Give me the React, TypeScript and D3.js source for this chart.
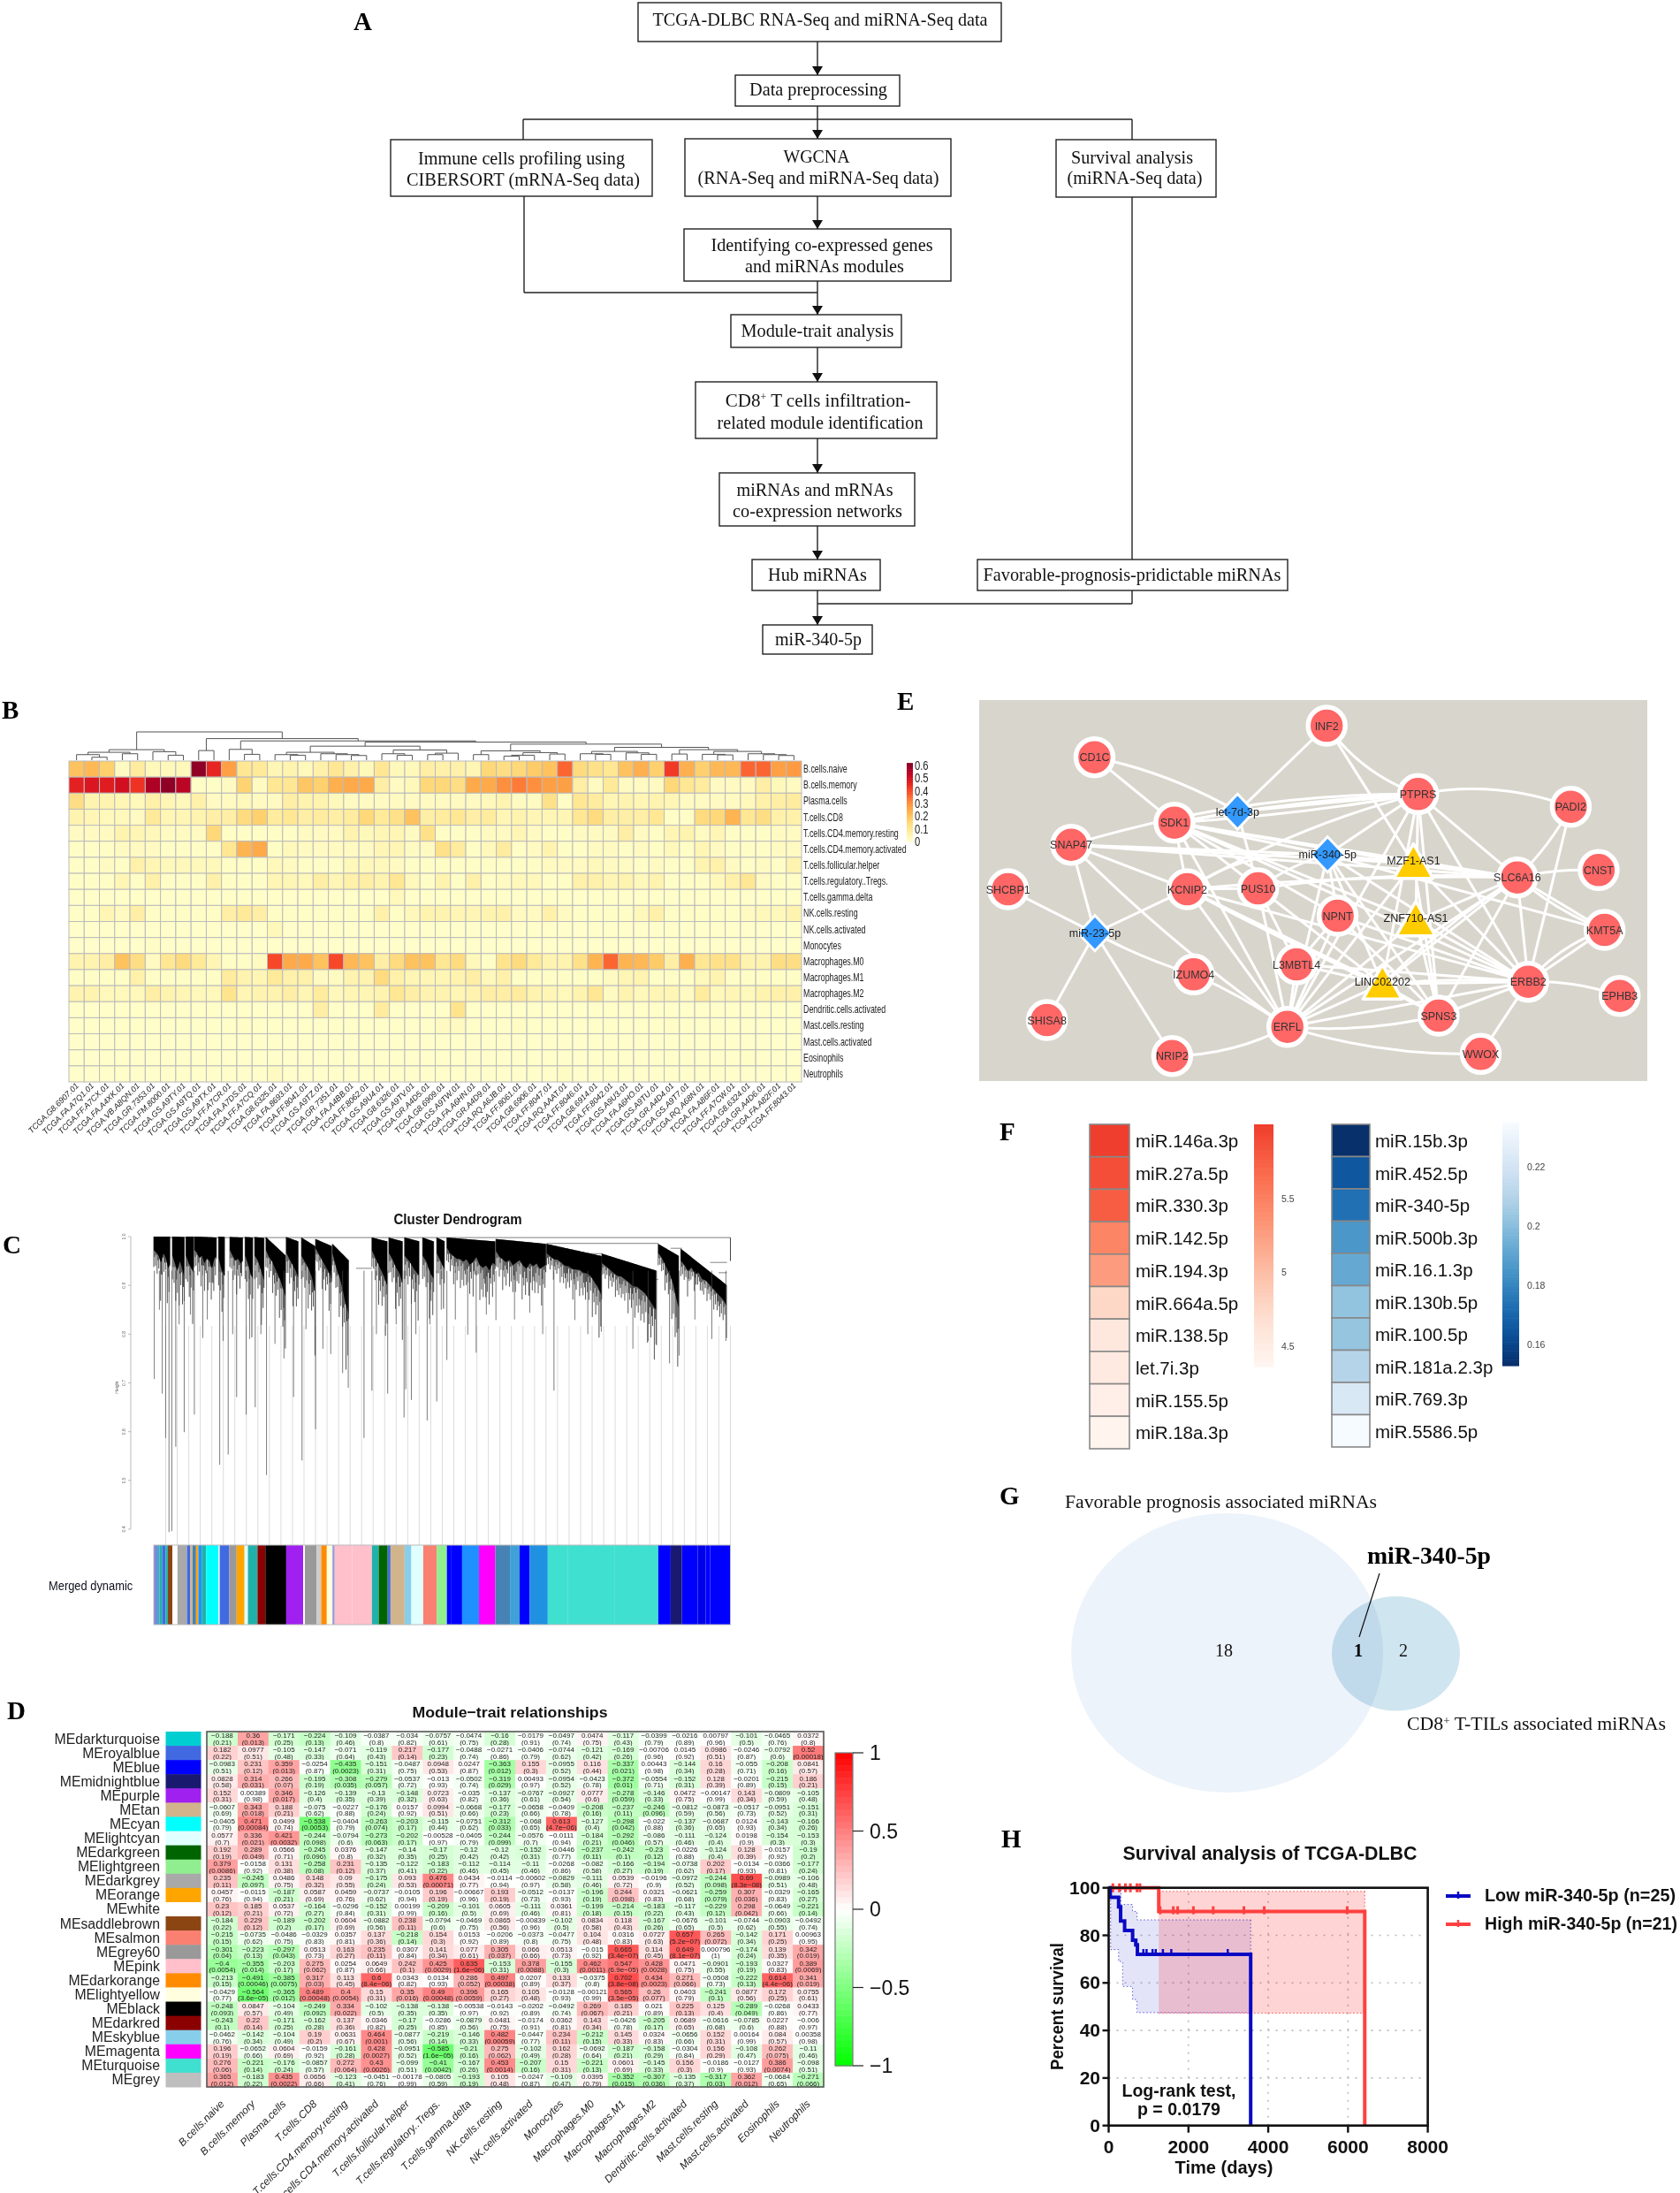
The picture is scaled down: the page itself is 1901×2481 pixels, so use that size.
import * as d3 from "d3"

const sans = "'Liberation Sans', Arial, sans-serif"
const serif = "'Liberation Serif', 'Times New Roman', serif"

// ---------- A: flow chart
const flowBoxes = [
  [722, 3, 411, 44], [832, 85, 186, 35], [442, 158, 296, 64], [775, 157, 301, 65], [1195, 158, 181, 65],
  [774, 259, 302, 59], [827, 356, 193, 37], [787, 432, 273, 64], [814, 535, 221, 60], [851, 633, 145, 35],
  [1106, 633, 351, 35], [863, 707, 124, 33],
]
const flowText: [string, number, number, number][] = [
  ["TCGA-DLBC RNA-Seq and miRNA-Seq data", 928, 29, 379],
  ["Data preprocessing", 926, 108, 156],
  ["Immune cells profiling using", 590, 186, 234],
  ["CIBERSORT (mRNA-Seq data)", 592, 210, 264],
  ["WGCNA", 924, 184, 75],
  ["(RNA-Seq and miRNA-Seq data)", 926, 208, 273],
  ["Survival analysis", 1281, 185, 138],
  ["(miRNA-Seq data)", 1284, 208, 153],
  ["Identifying co-expressed genes", 930, 284, 251],
  ["and miRNAs modules", 933, 308, 180],
  ["Module-trait analysis", 925, 381, 173],
  ["related module identification", 928, 485, 233],
  ["miRNAs and mRNAs", 922, 561, 177],
  ["co-expression networks", 925, 585, 192],
  ["Hub miRNAs", 925, 657, 112],
  ["Favorable-prognosis-pridictable miRNAs", 1281, 657, 337],
  ["miR-340-5p", 926, 730, 98],
]
const flowArrows = [
  [925, 47, 925, 85], [925, 120, 925, 157], [925, 222, 925, 259], [925, 318, 925, 356],
  [925, 393, 925, 432], [925, 496, 925, 535], [925, 595, 925, 633], [925, 668, 925, 707],
]
const flowLines = [
  [592, 135, 1281, 135], [592, 135, 592, 158], [1281, 135, 1281, 158], [593, 222, 593, 331], [593, 331, 925, 331],
  [1281, 223, 1281, 633], [1281, 668, 1281, 683], [925, 683, 1281, 683],
]

// ---------- B: CIBERSORT heatmap
const samples = [
  "TCGA.G8.6907.01", "TCGA.FA.A7Q1.01", "TCGA.FF.A7CX.01", "TCGA.FA.A4XK.01", "TCGA.VB.A8QN.01", "TCGA.GR.7353.01",
  "TCGA.FM.8000.01", "TCGA.GS.A9TY.01", "TCGA.GS.A9TQ.01", "TCGA.GS.A9TX.01", "TCGA.FF.A7CR.01", "TCGA.FA.A7DS.01",
  "TCGA.FF.A7CQ.01", "TCGA.G8.6325.01", "TCGA.FA.8693.01", "TCGA.FF.8041.01", "TCGA.GS.A9TZ.01", "TCGA.GR.7351.01",
  "TCGA.FA.A4BB.01", "TCGA.FF.8062.01", "TCGA.GS.A9U4.01", "TCGA.G8.6326.01", "TCGA.GS.A9TV.01", "TCGA.GR.A4D5.01",
  "TCGA.G8.6909.01", "TCGA.GS.A9TW.01", "TCGA.FA.A6HN.01", "TCGA.GR.A4D9.01", "TCGA.RQ.A6JB.01", "TCGA.FF.8061.01",
  "TCGA.G8.6906.01", "TCGA.FF.8047.01", "TCGA.RQ.AAAT.01", "TCGA.FF.8046.01", "TCGA.G8.6914.01", "TCGA.FF.8042.01",
  "TCGA.GS.A9U3.01", "TCGA.FA.A6HO.01", "TCGA.GS.A9TU.01", "TCGA.GR.A4D4.01", "TCGA.GS.A9T7.01", "TCGA.RQ.A68N.01",
  "TCGA.FA.A86F.01", "TCGA.FF.A7CW.01", "TCGA.G8.6324.01", "TCGA.GR.A4D6.01", "TCGA.FA.A82F.01", "TCGA.FF.8043.01",
]
const cellTypes = [
  "B.cells.naive", "B.cells.memory", "Plasma.cells", "T.cells.CD8", "T.cells.CD4.memory.resting",
  "T.cells.CD4.memory.activated", "T.cells.follicular.helper", "T.cells.regulatory..Tregs.", "T.cells.gamma.delta",
  "NK.cells.resting", "NK.cells.activated", "Monocytes", "Macrophages.M0", "Macrophages.M1", "Macrophages.M2",
  "Dendritic.cells.activated", "Mast.cells.resting", "Mast.cells.activated", "Eosinophils", "Neutrophils",
]
const fractions = [
  [.2,.22,.17,.02,.08,.03,.03,.03, .6,.45,.27,.1,.09,.04,.05,.03, .06,.1,.06,.03,.1,.03,.03,.07, .06,.06,.04,.15,.13,.15,.18,.2, .36,.14,.12,.1,.2,.24,.17,.42, .24,.17,.22,.22,.36,.36,.27,.28],
  [.46,.48,.47,.5,.43,.56,.6,.54, .01,.01,.02,.16,.02,.1,.1,.19, .17,.24,.25,.25,.07,.02,.03,.15, .15,.13,.25,.25,.3,.33,.3,.27, .27,.07,.02,.09,.02,.02,.02,.15, .1,.08,.02,.02,.02,.07,.03,.02],
  [.13,.05,.05,.04,.03,.06,.04,.03, .06,.02,.02,.03,.02,.02,.07,.05, .05,.03,.02,.02,.02,.02,.02,.02, .02,.02,.02,.03,.05,.02,.02,.12, .01,.1,.08,.04,.05,.04,.05,.04, .02,.02,.02,.02,.03,.06,.07,.08],
  [.05,.04,.03,.03,.02,.09,.04,.04, .05,.07,.07,.14,.17,.08,.1,.07, .08,.07,.08,.15,.09,.12,.2,.07, .08,.1,.07,.08,.04,.05,.04,.04, .04,.1,.14,.07,.07,.07,.1,.01, .01,.14,.15,.23,.1,.13,.06,.06],
  [.02,.02,.02,.05,.04,.03,.02,.02, .02,.15,.01,.01,.01,.01,.01,.02, .02,.02,.05,.03,.04,.04,.02,.12, .01,.01,.01,.02,.02,.04,.02,.01, .01,.02,.02,.02,.07,.02,.01,.04, .05,.02,.04,.01,.01,.01,.02,.02],
  [.01,.01,.01,.02,.02,.02,.01,.01, .01,.01,.1,.23,.25,.01,.03,.02, .02,.02,.02,.02,.04,.04,.02,.02, .12,.08,.01,.03,.08,.01,.02,.05, .01,.01,.02,.02,.01,.02,.01,.03, .01,.04,.02,.01,.01,.01,.02,.02],
  [.01,.01,.02,.01,.06,.04,.03,.03, .03,.03,.01,.01,.01,.03,.02,.01, .01,.01,.03,.03,.03,.02,.01,.01, .01,.01,.01,.01,.01,.01,.01,.02, .02,.02,.03,.02,.02,.01,.02,.01, .01,.05,.06,.02,.01,.02,.01,.05],
  [.01,.01,.01,.04,.01,.06,.01,.01, .01,.06,.01,.01,.01,.04,.04,.03, .07,.04,.06,.07,.05,.1,.03,.01, .05,.01,.06,.01,.02,.03,.03,.01, .01,.06,.06,.04,.05,.03,.05,.01, .01,.01,.03,.06,.1,.02,.01,.01],
  [.005,.005,.005,.005,.005,.005,.005,.005, .005,.005,.005,.005,.005,.005,.005,.005, .005,.005,.005,.005,.005,.03,.005,.005, .005,.005,.005,.005,.005,.005,.005,.005, .005,.005,.005,.005,.005,.005,.005,.005, .005,.005,.005,.005,.005,.005,.005,.005],
  [.01,.01,.04,.02,.07,.01,.01,.01, .01,.01,.07,.09,.07,.01,.01,.01, .01,.01,.01,.01,.06,.01,.03,.05, .05,.04,.04,.05,.06,.02,.02,.06, .02,.01,.01,.01,.01,.03,.06,.01, .01,.01,.01,.01,.02,.03,.03,.05],
  [.003,.003,.003,.003,.003,.003,.003,.003, .003,.003,.003,.003,.003,.03,.003,.003, .003,.003,.003,.003,.003,.003,.003,.003, .003,.003,.003,.003,.003,.003,.003,.003, .003,.003,.003,.003,.003,.003,.003,.003, .003,.003,.003,.003,.003,.003,.003,.003],
  [.003,.003,.003,.003,.003,.012,.003,.003, .003,.003,.003,.003,.003,.003,.003,.003, .003,.003,.003,.003,.003,.003,.003,.003, .003,.003,.003,.003,.003,.003,.003,.003, .003,.003,.003,.003,.003,.003,.003,.003, .003,.003,.003,.003,.003,.003,.003,.003],
  [.05,.05,.07,.2,.13,.02,.1,.14, .09,.04,.01,.01,.02,.4,.25,.25, .2,.4,.22,.2,.07,.14,.2,.2, .1,.14,.03,.01,.11,.14,.09,.05, .05,.12,.23,.36,.23,.22,.18,.07, .24,.1,.12,.12,.05,.05,.13,.13],
  [.01,.01,.01,.01,.06,.01,.01,.01, .01,.01,.08,.05,.04,.09,.06,.06, .02,.02,.05,.05,.14,.06,.04,.04, .04,.05,.07,.03,.06,.01,.01,.01, .01,.01,.01,.02,.04,.05,.01,.01, .01,.03,.05,.01,.01,.01,.01,.01],
  [.05,.05,.03,.03,.03,.07,.05,.04, .03,.03,.11,.04,.05,.05,.07,.04, .08,.03,.04,.04,.05,.1,.07,.05, .05,.04,.05,.07,.07,.08,.05,.04, .03,.05,.1,.02,.05,.03,.04,.04, .02,.08,.03,.04,.03,.05,.06,.06],
  [.005,.005,.005,.005,.005,.005,.005,.005, .005,.005,.005,.005,.005,.005,.005,.005, .07,.005,.005,.005,.08,.005,.005,.005, .005,.11,.005,.005,.005,.005,.005,.005, .005,.005,.005,.005,.005,.005,.005,.005, .005,.005,.005,.005,.005,.005,.005,.005],
  [.005,.005,.005,.005,.005,.005,.005,.005, .005,.005,.005,.012,.005,.005,.005,.005, .005,.005,.005,.005,.005,.005,.005,.005, .02,.02,.005,.005,.005,.015,.005,.005, .005,.005,.005,.005,.005,.005,.005,.012, .005,.005,.005,.005,.005,.005,.005,.005],
  [.004,.004,.004,.004,.004,.004,.004,.004, .004,.004,.004,.004,.004,.004,.004,.004, .004,.004,.004,.004,.004,.004,.004,.004, .004,.004,.004,.004,.004,.004,.004,.004, .004,.004,.004,.004,.004,.004,.004,.004, .004,.004,.004,.004,.004,.004,.004,.004],
  [.004,.004,.004,.004,.004,.004,.004,.004, .004,.004,.004,.004,.004,.004,.004,.004, .004,.004,.004,.004,.004,.004,.004,.004, .004,.004,.004,.004,.004,.004,.004,.004, .004,.004,.004,.004,.004,.004,.004,.004, .004,.004,.004,.004,.01,.004,.004,.004],
  [.004,.004,.004,.004,.004,.004,.004,.004, .004,.004,.004,.004,.004,.02,.004,.004, .004,.004,.004,.004,.004,.004,.004,.004, .004,.004,.004,.004,.004,.004,.004,.004, .015,.004,.004,.004,.004,.004,.004,.004, .004,.004,.004,.004,.004,.004,.004,.004],
]
const fractionTicks = [0, .1, .2, .3, .4, .5, .6]
// [merge height, left, right], a number is a leaf (index into samples)
const sampleTree: any = [97,
  [36, [27, [19, 0, [10, 1, 2]], [22, 3, 4]], [29, 5, [17, 6, 7]]],
  [74, [33, 8, 9],
    [66, [37, 10, [20, 11, 12]],
      [62,
        [48,
          [27, [19, 13, [17, 14, 15]], [22, 16, [19, 17, [16, 18, 19]]]],
          [35, [22, 20, [17, 21, 22]], [24, [19, 23, 24], 25]]],
        [55,
          [32, [19, 26, 27], [26, [17, [14, 28, 29], 30], [21, 31, 32]]],
          [44,
            [30, [22, 33, [20, 34, 35]], [25, 36, [20, 37, 38]]],
            [36, [21, 39, 40], [30, [20, 41, [18, 42, 43]], [22, 44, [19, 45, [16, 46, 47]]]]]]]]]]]

// ---------- C: WGCNA dendrogram
const heightTicks = [1, .9, .8, .7, .6, .5, .4]
const geneCount = 1023
const lobeStart = [0, 33, 57, 72, 115, 135, 162, 179, 199, 235, 262, 287, 317, 387, 417, 445, 477, 502, 520, 607, 697, 795, 895, 935]
const lobeEnd = [30, 55, 72, 112, 127, 159, 177, 197, 235, 257, 287, 317, 347, 415, 442, 472, 497, 517, 607, 697, 795, 892, 932, 1017]
const lobeTop = [[1, 1], [1, .999], [1, 1], [1, .998], [1, .999], [.999, .998], [.999, .998], [.999, .997], [.999, .96], [.999, .99], [.998, .98], [.995, .98], [.985, .95], [.998, .99], [.998, .99], [.998, .99], [.998, .99], [.998, .99], [.998, .99], [.995, .985], [.985, .96], [.965, .93], [.985, .96], [.975, .9]]
const lobeBottom = [
  [.95, .94, .93, .9, .94, .92, .88, .91], [.93, .9, .87, .91, .88, .84], [.93, .9, .88, .86], [.95, .94, .92, .93, .9, .92, .91, .88, .92, .93],
  [.92, .87, .85], [.95, .93, .91, .92, .9, .92], [.93, .9, .86, .84], [.93, .91, .87, .83], [.95, .93, .92, .9, .88, .86, .83, .8],
  [.94, .92, .9, .88, .85], [.93, .91, .89, .86, .8], [.96, .94, .92, .9, .88, .85], [.95, .92, .89, .87, .84, .8, .77, .74],
  [.95, .92, .89, .86, .82], [.94, .92, .89, .87, .83], [.93, .91, .88, .86], [.93, .91, .87, .85], [.94, .92, .9, .88],
  [.96, .94, .93, .92, .92, .91, .92, .9, .91, .93, .9, .89, .9, .88, .91, .9], [.95, .93, .92, .91, .92, .9, .91, .92, .9, .89, .91, .9, .91, .89, .9, .91],
  [.95, .94, .93, .93, .92, .91, .91, .9, .9, .9, .89, .89, .88, .86, .84, .81], [.93, .92, .91, .9, .89, .89, .88, .87, .86, .86, .85, .84, .82, .8, .78],
  [.95, .94, .92, .9, .88, .85, .8, .76], [.93, .92, .9, .92, .9, .91, .89, .89, .88, .87, .86, .85, .84, .82],
]
// relative branch lengths repeated along each lobe to give the comb texture
const branchPattern = [1, .62, .84, .5, .95, .58, .72, .44, 1.12, .66, .78, .52, .9, .6, .7, .47, 1.05, .56, .82, .48, .92, .64, .74]
const spikeGene = [1, 15, 21, 27, 32, 39, 54, 72, 87, 117, 123, 132, 147, 164, 180, 200, 231, 248, 263, 287, 314, 373, 387, 415, 444, 447, 457, 485, 502, 520, 557, 572, 607, 667, 710, 747, 794, 877, 892, 932, 1015, 10, 45, 65, 95, 140, 170, 190, 215, 270, 300, 335, 345, 395, 430, 465, 490, 510, 535, 590, 640, 690, 770, 850, 915, 960, 990]
const spikeHeight = [.708, .678, .587, .394, .396, .569, .599, .635, .792, .532, .786, .553, .671, .635, .65, .511, .75, .671, .541, .605, .759, .587, .684, .678, .629, .687, .665, .623, .662, .747, .799, .762, .829, .844, .684, .829, .805, .786, .777, .756, .786, .85, .82, .84, .83, .8, .79, .8, .78, .81, .77, .72, .69, .8, .82, .8, .82, .85, .83, .84, .83, .8, .8, .77, .74, .83, .79]
const mergeFrom = [0, 697, 762, 867, 917, 987, 1002, 359]
const mergeTo = [1023, 895, 795, 895, 937, 1017, 1017, 387]
const mergeHeight = [.998, .986, .965, .912, .976, .947, .926, .935]
const moduleBarStart = [0, 3, 10, 15, 21, 25, 33, 42, 59, 65, 69, 75, 79, 85, 93, 115, 117, 134, 147, 161, 167, 184, 198, 235, 265, 268, 289, 297, 307, 317, 321, 352, 387, 399, 415, 420, 445, 457, 478, 502, 520, 527, 547, 577, 606, 632, 649, 667, 699, 734, 817, 895, 917, 937, 965, 979, 987]
const moduleBarColor = ["#9370db", "#5b9bd5", "#20b2aa", "#4169e1", "#20b2aa", "#8b4513", "#ffffff", "#a9a9a9", "#4169e1", "#d2b48c", "#4682b4", "#ffa500", "#1e90ff", "#20b2aa", "#00ffff", "#ffffff", "#4169e1", "#999999", "#ffa500", "#e0ffff", "#20b2aa", "#8b0000", "#000000", "#a020f0", "#ffffff", "#999999", "#cccccc", "#ff8c00", "#ffffe0", "#9999dd", "#ffc0cb", "#ffc0cb", "#20b2aa", "#006400", "#4169e1", "#d2b48c", "#87ceeb", "#e0ffff", "#fa8072", "#90ee90", "#0000ff", "#0000ff", "#1e90ff", "#ff00ff", "#4682b4", "#40a0d8", "#0000ff", "#2090e0", "#40e0d0", "#40e0d0", "#40e0d0", "#0000ff", "#191970", "#0000ff", "#0000e8", "#0000ff", "#0000ff"]

// ---------- D: module-trait relationships
const modules = ["darkturquoise", "royalblue", "blue", "midnightblue", "purple", "tan", "cyan", "lightcyan", "darkgreen", "lightgreen", "darkgrey", "orange", "white", "saddlebrown", "salmon", "grey60", "pink", "darkorange", "lightyellow", "black", "darkred", "skyblue", "magenta", "turquoise", "grey"]
const moduleColors = ["#00ced1", "#4169e1", "#0000ff", "#191970", "#a020f0", "#d2b48c", "#00ffff", "#e0ffff", "#006400", "#90ee90", "#a9a9a9", "#ffa500", "#ffffff", "#8b4513", "#fa8072", "#999999", "#ffc0cb", "#ff8c00", "#ffffe0", "#000000", "#8b0000", "#87ceeb", "#ff00ff", "#40e0d0", "#bebebe"]
const moduleR = [
  [-.188, .36, -.171, -.224, -.109, -.0387, -.034, -.0757, -.0474, -.16, -.0179, -.0497, .0474, -.117, -.0399, -.0216, .00797, -.101, -.0465, .0372],
  [.182, .0977, -.105, -.147, -.071, -.119, .217, -.177, -.0488, -.0271, -.0406, -.0744, -.121, -.169, -.00706, .0145, .0986, -.0246, -.0792, .52],
  [-.0983, .231, .359, -.0254, -.435, -.151, -.0487, .0948, .0247, -.363, .155, -.0955, .116, -.337, .00443, -.144, .16, -.055, -.208, .0841],
  [.0828, .314, .266, -.195, -.308, -.279, -.0537, -.013, -.0502, -.319, .00493, -.0954, -.0423, -.372, -.0554, -.152, .128, -.0201, -.215, .186],
  [.152, .00389, .346, -.126, -.139, -.13, -.148, .0723, -.035, -.137, -.0767, -.0927, .0777, -.278, -.146, .0472, -.00147, .143, -.0809, -.105],
  [-.0607, .343, .188, -.075, -.0227, -.176, .0157, .0994, -.0668, -.177, -.0658, -.0409, -.208, -.237, -.246, -.0812, -.0873, -.0517, -.0951, -.151],
  [-.0405, .471, .0499, -.538, -.0404, -.263, -.203, -.115, -.0751, -.312, -.068, .613, -.127, -.298, -.022, -.137, -.0687, .0124, -.143, -.166],
  [.0577, .336, .421, -.244, -.0794, -.273, -.202, -.00528, -.0405, -.244, -.0576, -.0111, -.184, -.292, -.086, -.111, -.124, .0198, -.154, -.153],
  [.192, .289, .0566, -.245, .0376, -.147, -.14, -.17, -.12, -.12, -.152, -.0446, -.237, -.242, -.23, -.0226, -.124, .128, -.0157, -.19],
  [.379, -.0158, .131, -.258, .231, -.135, -.122, -.183, -.112, -.114, -.11, -.0268, -.082, -.166, -.194, -.0738, .202, -.0134, -.0366, -.177],
  [.235, -.245, .0486, .148, .09, -.175, .093, .476, .0434, -.0114, -.00602, -.0829, -.111, .0539, -.0196, -.0972, -.244, .69, -.0989, -.106],
  [.0457, -.0115, -.187, .0587, .0459, -.0737, -.0105, .196, -.00667, .193, -.0512, -.0137, -.196, .244, .0321, -.0621, -.259, .307, -.0329, -.165],
  [.23, .185, .0537, -.164, -.0296, -.152, .00199, -.209, -.101, .0605, -.111, .0361, -.199, -.214, -.183, -.117, -.229, .298, -.0649, -.221],
  [-.184, .229, -.189, -.202, .0604, -.0882, .238, -.0794, -.0469, .0865, -.00839, -.102, .0834, .118, -.167, -.0676, -.101, -.0744, -.0903, -.0492],
  [-.215, -.0735, -.0486, -.0329, .0357, .137, -.218, .154, .0153, -.0206, -.0373, -.0477, .104, .0316, .0727, .657, .265, -.142, .171, .00963],
  [-.301, -.223, -.297, .0513, .163, .235, .0307, .141, .077, .305, .066, .0513, -.015, .665, .114, .649, .000796, -.174, .139, .342],
  [-.4, -.355, -.203, .275, .0254, .0649, .242, .425, .635, -.153, .378, -.155, .462, .547, .428, .0471, -.0901, -.193, .0327, .389],
  [-.213, -.491, -.385, .317, .113, .6, .0343, .0134, .286, .497, .0207, .133, -.0375, .702, .434, .271, -.0508, -.222, .614, .341],
  [-.0429, -.564, -.365, .489, .4, .15, .35, .49, .396, .165, .105, -.0128, -.00121, .565, .26, .0403, -.241, .0877, .172, .0755],
  [-.248, .0847, -.104, -.249, .334, -.102, -.138, -.138, -.00538, -.0143, -.0202, -.0492, .269, .185, .021, .225, .125, -.289, -.0268, .0433],
  [-.243, .22, -.171, -.162, .137, .0346, -.17, -.0286, -.0879, .0481, -.0174, .0362, .143, -.0426, -.205, .0689, -.0616, -.0785, .0227, -.006],
  [-.0462, -.142, -.104, .19, .0631, .464, -.0877, -.219, -.146, .482, -.0447, .234, -.212, .145, .0324, -.0656, .152, .00164, .084, .00358],
  [.196, -.0652, .0604, -.0159, -.161, .428, -.0951, -.585, -.21, .275, -.102, .162, -.0692, -.187, -.158, -.0304, .156, -.108, .262, -.11],
  [.276, -.221, -.176, -.0857, .272, .43, -.099, -.41, -.167, .453, -.207, .15, -.221, .0601, -.145, .156, -.0186, -.0127, .386, -.098],
  [.365, -.183, .435, .0656, -.123, -.0451, -.00178, -.0805, -.193, .105, -.0247, -.109, .0395, -.352, -.307, -.135, -.317, .362, -.0684, -.271],
]
const moduleP = [
  [.21, .013, .25, .13, .46, .8, .82, .61, .75, .28, .91, .74, .75, .43, .79, .89, .96, .5, .76, .8],
  [.22, .51, .48, .33, .64, .43, .14, .23, .74, .86, .79, .62, .42, .26, .96, .92, .51, .87, .6, .00018],
  [.51, .12, .013, .87, .0023, .31, .75, .53, .87, .012, .3, .52, .44, .021, .98, .34, .28, .71, .16, .57],
  [.58, .031, .07, .19, .035, .057, .72, .93, .74, .029, .97, .52, .78, .01, .71, .31, .39, .89, .15, .21],
  [.31, .98, .017, .4, .35, .39, .32, .63, .82, .36, .61, .54, .6, .059, .33, .75, .99, .34, .59, .48],
  [.69, .018, .21, .62, .88, .24, .92, .51, .66, .23, .66, .78, .16, .11, .096, .59, .56, .73, .52, .31],
  [.79, .00084, .74, .0053, .79, .074, .17, .44, .62, .033, .65, 4.7e-6, .4, .042, .88, .36, .65, .93, .34, .26],
  [.7, .021, .0032, .098, .6, .063, .17, .97, .79, .099, .7, .94, .21, .046, .57, .46, .4, .9, .3, .3],
  [.19, .049, .71, .096, .8, .32, .35, .25, .42, .42, .31, .77, .11, .1, .12, .88, .4, .39, .92, .2],
  [.0086, .92, .38, .08, .12, .37, .41, .22, .46, .45, .46, .86, .58, .27, .19, .62, .17, .93, .81, .24],
  [.11, .097, .75, .32, .55, .24, .53, .00071, .77, .94, .97, .58, .46, .72, .9, .52, .098, 8.3e-8, .51, .48],
  [.76, .94, .21, .69, .76, .62, .94, .19, .96, .19, .73, .93, .19, .098, .83, .68, .079, .036, .83, .27],
  [.12, .21, .72, .27, .84, .31, .99, .16, .5, .69, .46, .81, .18, .15, .22, .43, .12, .042, .66, .14],
  [.22, .12, .2, .17, .69, .56, .11, .6, .75, .56, .96, .5, .58, .43, .26, .65, .5, .62, .55, .74],
  [.15, .62, .75, .83, .81, .36, .14, .3, .92, .89, .8, .75, .48, .83, .63, 5.2e-7, .072, .34, .25, .95],
  [.04, .13, .043, .73, .27, .11, .84, .34, .61, .037, .66, .73, .92, 3.4e-7, .45, 8.1e-7, 1, .24, .35, .019],
  [.0054, .014, .17, .062, .87, .66, .1, .0029, 1.6e-6, .31, .0088, .3, .0011, 6.9e-5, .0028, .75, .55, .19, .83, .0069],
  [.15, .00046, .0075, .03, .45, 8.4e-6, .82, .93, .052, .00038, .89, .37, .8, 3.8e-8, .0023, .066, .73, .13, 4.4e-6, .019],
  [.77, 3.6e-5, .012, .00048, .0054, .31, .016, .00048, .0059, .27, .48, .93, .99, 3.5e-5, .077, .79, .1, .56, .25, .61],
  [.093, .57, .49, .092, .022, .5, .35, .35, .97, .92, .89, .74, .067, .21, .89, .13, .4, .049, .86, .77],
  [.1, .14, .25, .28, .36, .82, .25, .85, .56, .75, .91, .81, .34, .78, .17, .65, .68, .6, .88, .97],
  [.76, .34, .49, .2, .67, .001, .56, .14, .33, .00059, .77, .11, .15, .33, .83, .66, .31, .99, .57, .98],
  [.19, .66, .69, .92, .28, .0027, .52, 1.6e-5, .16, .062, .49, .28, .64, .21, .29, .84, .29, .47, .075, .46],
  [.06, .14, .24, .57, .064, .0026, .51, .0042, .26, .0014, .16, .31, .13, .69, .33, .3, .9, .93, .0074, .51],
  [.012, .22, .0022, .66, .41, .76, .99, .59, .19, .48, .87, .47, .79, .015, .036, .37, .03, .012, .65, .066],
]
const corrTicks = [1, .5, 0, -.5, -1]

// ---------- E: co-expression network (layout units of the drawing)
const geneNames = ["INF2", "CD1C", "PTPRS", "PADI2", "SDK1", "SNAP47", "SLC6A16", "CNST", "SHCBP1", "KCNIP2", "PUS10", "NPNT", "KMT5A", "L3MBTL4", "IZUMO4", "ERBB2", "EPHB3", "SPNS3", "SHISA8", "ERFL", "WWOX", "NRIP2"]
const geneX = [795, 287, 995, 1329, 462, 236, 1212, 1390, 98, 490, 645, 819, 1403, 729, 504, 1236, 1436, 1040, 183, 709, 1132, 457]
const geneY = [123, 230, 355, 398, 452, 527, 638, 613, 678, 678, 675, 768, 816, 933, 967, 992, 1040, 1107, 1122, 1145, 1237, 1244]
const mirNames = ["let-7d-3p", "miR-340-5p", "miR-23-5p"]
const mirX = [600, 797, 288]
const mirY = [415, 560, 827]
const lncNames = ["MZF1-AS1", "ZNF710-AS1", "LINC02202"]
const lncX = [985, 990, 917]
const lncY = [590, 785, 1000]
const edges: [string, string, number?][] = [
  ["INF2", "let-7d-3p"], ["INF2", "PTPRS", 20], ["INF2", "MZF1-AS1"],
  ["CD1C", "let-7d-3p", -14], ["CD1C", "SDK1"],
  ["PTPRS", "PADI2", -24], ["PTPRS", "SDK1", 10], ["PTPRS", "let-7d-3p"], ["PTPRS", "SDK1", -8], ["PTPRS", "SNAP47", 30], ["PTPRS", "miR-340-5p"], ["PTPRS", "SLC6A16"], ["PTPRS", "ERBB2"], ["PTPRS", "ERFL"], ["PTPRS", "LINC02202"], ["PTPRS", "ZNF710-AS1"], ["PTPRS", "SPNS3"], ["PTPRS", "KCNIP2", 20],
  ["SDK1", "let-7d-3p"], ["SDK1", "miR-340-5p"], ["SDK1", "MZF1-AS1"], ["SDK1", "SLC6A16"], ["SDK1", "ZNF710-AS1"], ["SDK1", "ERBB2"], ["SDK1", "KCNIP2"], ["SDK1", "ERFL"], ["SDK1", "LINC02202"], ["SDK1", "NPNT"],
  ["SNAP47", "miR-23-5p"], ["SNAP47", "KCNIP2"], ["SNAP47", "miR-340-5p"], ["SNAP47", "MZF1-AS1"], ["SNAP47", "SLC6A16"], ["SNAP47", "ERFL", 14],
  ["KCNIP2", "miR-23-5p"], ["KCNIP2", "miR-340-5p", -30], ["KCNIP2", "PUS10"], ["KCNIP2", "SLC6A16", -10], ["KCNIP2", "ERBB2"], ["KCNIP2", "LINC02202"], ["KCNIP2", "LINC02202", 6], ["KCNIP2", "ERFL"], ["KCNIP2", "SPNS3"],
  ["PUS10", "ERFL"], ["PUS10", "SLC6A16", -14], ["PUS10", "let-7d-3p"], ["PUS10", "miR-340-5p", -8],
  ["NPNT", "miR-340-5p"], ["NPNT", "ERFL"], ["NPNT", "ERBB2"], ["NPNT", "SPNS3"], ["NPNT", "L3MBTL4"],
  ["miR-340-5p", "ERFL"], ["miR-340-5p", "ERBB2"], ["miR-340-5p", "LINC02202"], ["miR-340-5p", "SPNS3"], ["miR-340-5p", "SLC6A16"], ["miR-340-5p", "MZF1-AS1"], ["miR-340-5p", "KMT5A"],
  ["SLC6A16", "CNST", -6], ["SLC6A16", "PADI2", 8], ["SLC6A16", "KMT5A"], ["SLC6A16", "KMT5A", 10], ["SLC6A16", "ERBB2"], ["SLC6A16", "ERFL"], ["SLC6A16", "LINC02202"], ["SLC6A16", "LINC02202", 10], ["SLC6A16", "ZNF710-AS1"], ["SLC6A16", "SPNS3"], ["SLC6A16", "MZF1-AS1"],
  ["KMT5A", "ERBB2"], ["KMT5A", "ERBB2", 14], ["PADI2", "ERBB2"],
  ["ERBB2", "EPHB3", -10], ["ERBB2", "WWOX"], ["ERBB2", "SPNS3"], ["ERBB2", "LINC02202"], ["ERBB2", "LINC02202", 6], ["ERBB2", "ERFL"], ["ERBB2", "ZNF710-AS1"], ["ERBB2", "L3MBTL4"], ["ERBB2", "MZF1-AS1"],
  ["ERFL", "L3MBTL4"], ["ERFL", "IZUMO4", 6], ["ERFL", "NRIP2", -16], ["ERFL", "WWOX", 18], ["ERFL", "SPNS3", 14], ["ERFL", "LINC02202"], ["ERFL", "ZNF710-AS1"], ["ERFL", "MZF1-AS1"],
  ["L3MBTL4", "LINC02202"], ["L3MBTL4", "PUS10"], ["LINC02202", "SPNS3"], ["ZNF710-AS1", "SPNS3"], ["MZF1-AS1", "SPNS3"],
  ["miR-23-5p", "SHCBP1"], ["miR-23-5p", "IZUMO4", 6], ["miR-23-5p", "SHISA8"], ["miR-23-5p", "NRIP2"],
]

// ---------- F: miRNA expression bars
const upMirs = ["miR.146a.3p", "miR.27a.5p", "miR.330.3p", "miR.142.5p", "miR.194.3p", "miR.664a.5p", "miR.138.5p", "let.7i.3p", "miR.155.5p", "miR.18a.3p"]
const upValues = [5.98, 5.87, 5.76, 5.45, 5.27, 4.75, 4.55, 4.52, 4.45, 4.38]
const upTicks = [5.5, 5, 4.5]
const downMirs = ["miR.15b.3p", "miR.452.5p", "miR-340-5p", "miR.500b.3p", "miR.16.1.3p", "miR.130b.5p", "miR.100.5p", "miR.181a.2.3p", "miR.769.3p", "miR.5586.5p"]
const downValues = [.153, .165, .173, .1855, .192, .2018, .2025, .21, .222, .234]
const downTicks = [.22, .2, .18, .16]

// ---------- H: Kaplan-Meier
const survTicksX = [0, 2000, 4000, 6000, 8000]
const survTicksY = [0, 20, 40, 60, 80, 100]
const lowTime = [0, 40, 250, 300, 400, 600, 680, 720, 3560, 3560]
const lowSurv = [100, 96, 92, 86, 82, 78, 76, 72, 72, 0]
const lowBandTime = [0, 50, 250, 310, 350, 600, 710, 3560]
const lowBandUpper = [100, 100, 100, 93, 93, 90, 86.5, 86.5]
const lowBandLower = [100, 74, 69, 69, 58.5, 53, 47.5, 47.5]
const lowCensor = [870, 950, 1100, 1180, 1360, 1570, 2985]
const highTime = [0, 1256, 6420, 6420]
const highSurv = [100, 90, 90, 0]
const highBandTime = [1256, 6420]
const highBandUpper = [98.5, 98.5]
const highBandLower = [47.3, 47.3]
const highCensorTop = [105, 270, 420, 545, 710, 785]
const highCensor = [1290, 1620, 1730, 2125, 2620, 3390, 3900, 5980]

function Letter({ t, x, y, size = 29 }: any) {
  return <text x={x} y={y} fontFamily={serif} fontWeight="bold" fontSize={size} fill="#000">{t}</text>
}

function FlowChart() {
  return (
    <g>
      <defs>
        <marker id="arr" markerUnits="userSpaceOnUse" markerWidth="11" markerHeight="12" refX="10" refY="6" orient="auto">
          <path d="M0,0L10,6L0,12Z" fill="#111" />
        </marker>
      </defs>
      {flowLines.map((l, i) => <line key={i} x1={l[0]} y1={l[1]} x2={l[2]} y2={l[3]} stroke="#222" strokeWidth={1.4} />)}
      {flowArrows.map((l, i) => <line key={i} x1={l[0]} y1={l[1]} x2={l[2]} y2={l[3]} stroke="#222" strokeWidth={1.4} markerEnd="url(#arr)" />)}
      {flowBoxes.map((b, i) => <rect key={i} x={b[0]} y={b[1]} width={b[2]} height={b[3]} fill="#fff" stroke="#222" strokeWidth={1.4} />)}
      {flowText.map((t, i) => (
        <text key={i} x={t[1]} y={t[2]} textAnchor="middle" fontFamily={serif} fontSize={21} fill="#111" textLength={t[3]} lengthAdjust="spacingAndGlyphs">{t[0]}</text>
      ))}
      <text x={925.6} y={459.5} textAnchor="middle" fontFamily={serif} fontSize={21} fill="#111">
        CD8<tspan fontSize={12} dy={-7}>+</tspan><tspan dy={7}> T cells infiltration-</tspan>
      </text>
    </g>
  )
}

function Squeezed({ x, y, sx, children, size, anchor = "start", fill = "#222", weight = "normal" }: any) {
  return (
    <text transform={`translate(${x},${y}) scale(${sx},1)`} fontFamily={sans} fontSize={size} textAnchor={anchor} fill={fill} fontWeight={weight}>
      {children}
    </text>
  )
}

function CellHeatmap() {
  const x = d3.scaleBand().domain(samples).range([78, 907])
  const y = d3.scaleBand().domain(cellTypes).range([861, 1224])
  const color = d3.scaleSequential(d3.interpolateYlOrRd).domain([0, .62])
  const ly = d3.scaleLinear().domain([0, .6]).range([952, 866])
  const th = d3.scaleLinear().domain([0, 97]).range([860, 828])
  const segs: any[] = []
  const walk = (n: any): [number, number] => {
    if (typeof n === "number") return [x(samples[n])! + x.bandwidth() / 2, 0]
    const [a, ah] = walk(n[1])
    const [b, bh] = walk(n[2])
    segs.push(`M${a},${th(ah)}V${th(n[0])}H${b}V${th(bh)}`)
    return [(a + b) / 2, n[0]]
  }
  walk(sampleTree)
  const steps = d3.range(0, .62, .01)
  return (
    <g>
      <path d={segs.join("")} fill="none" stroke="#555" strokeWidth={1} />
      {fractions.map((row, r) => row.map((v, c) => (
        <rect key={r + "-" + c} x={x(samples[c])} y={y(cellTypes[r])} width={x.bandwidth()} height={y.bandwidth()} fill={color(v)} stroke="#bbb" strokeWidth={1} />
      )))}
      {cellTypes.map(t => <Squeezed key={t} x={909} y={y(t)! + y.bandwidth() / 2 + 4} sx={.74} size={12}>{t}</Squeezed>)}
      {samples.map(s => (
        <text key={s} transform={`translate(${x(s)! + x.bandwidth() / 2 + 3},1229) rotate(-45)`} textAnchor="end" fontFamily={sans} fontSize={9.2} fontStyle="italic" fill="#222">{s}</text>
      ))}
      {steps.map(v => <rect key={v} x={1026} y={ly(v + .01)} width={7} height={ly(v) - ly(v + .01) + .5} fill={color(v)} />)}
      {fractionTicks.map(v => <Squeezed key={v} x={1035} y={ly(v) + 5} sx={.8} size={14}>{String(v)}</Squeezed>)}
    </g>
  )
}

function Dendrogram() {
  const x = d3.scaleLinear().domain([0, geneCount]).range([174, 826.5])
  const y = d3.scaleLinear().domain([1, .4]).range([1399, 1730])
  // black upper part of every lobe plus its comb of thin branches
  const solids: string[] = []
  const branches: string[] = []
  lobeBottom.forEach((b, i) => {
    const along = d3.scaleLinear().domain([lobeStart[i], lobeEnd[i]]).range([0, b.length - 1])
    const top = d3.scaleLinear().domain([lobeStart[i], lobeEnd[i]]).range(lobeTop[i])
    const depth = d3.scaleLinear<number>().domain(b.map((_, k) => k)).range(b)
    const genes = d3.range(lobeStart[i], lobeEnd[i], 1.5)
    solids.push(d3.area<number>().x(g => x(g)).y1(g => y(top(g))).y0(g => y(top(g) - (top(g) - depth(along(g))) * .55))(genes)!)
    genes.forEach((g, k) => {
      const reach = (top(g) - depth(along(g))) * branchPattern[k % branchPattern.length] * 1.25
      branches.push(`M${x(g)},${y(top(g))}V${y(top(g) - reach)}`)
    })
  })
  const guide = d3.scaleLinear().domain([0, 49]).range([187.5, 826.5])
  return (
    <g>
      <text x={518} y={1385} textAnchor="middle" fontFamily={sans} fontWeight="bold" fontSize={16} fill="#111" textLength={145} lengthAdjust="spacingAndGlyphs">Cluster Dendrogram</text>
      {d3.range(0, 50).map(i => <line key={i} x1={guide(i)} x2={guide(i)} y1={1500} y2={1748} stroke="#dcdcdc" strokeWidth={1} />)}
      {mergeFrom.map((m, i) => <line key={i} x1={x(m)} x2={x(mergeTo[i])} y1={y(mergeHeight[i])} y2={y(mergeHeight[i])} stroke="#999" strokeWidth={1.2} />)}
      <line x1={x(geneCount)} x2={x(geneCount)} y1={y(.998)} y2={y(.95)} stroke="#444" strokeWidth={1} />
      <path d={branches.join("")} fill="none" stroke="#1a1a1a" strokeWidth={.75} />
      {solids.map((d, i) => <path key={i} d={d} fill="#000" />)}
      {spikeGene.map((g, i) => <line key={i} x1={x(g)} x2={x(g)} y1={y(.93)} y2={y(spikeHeight[i])} stroke="#444" strokeWidth={.7} />)}
      <line x1={148} x2={148} y1={y(1)} y2={y(.4)} stroke="#aaa" strokeWidth={.8} />
      {heightTicks.map(t => (
        <g key={t}>
          <line x1={145} x2={148} y1={y(t)} y2={y(t)} stroke="#aaa" strokeWidth={.8} />
          <text transform={`translate(142,${y(t)}) rotate(-90)`} textAnchor="middle" fontFamily={sans} fontSize={5} fill="#666">{t.toFixed(1)}</text>
        </g>
      ))}
      <text transform={`translate(134,${y(.7) + 5}) rotate(-90)`} textAnchor="middle" fontFamily={sans} fontSize={5} fill="#666">Height</text>
      {moduleBarStart.map((s, i) => (
        <rect key={i} x={x(s)} y={1748} width={x(i + 1 < moduleBarStart.length ? moduleBarStart[i + 1] : geneCount) - x(s)} height={90} fill={moduleBarColor[i]} />
      ))}
      <rect x={174} y={1748} width={652.5} height={90} fill="none" stroke="#bbb" strokeWidth={1} />
      <Squeezed x={55} y={1799} sx={.86} size={15} fill="#112">Merged dynamic</Squeezed>
    </g>
  )
}

function pText(p: number) {
  const s = p < 1e-4 ? p.toExponential(1).replace(/e-(\d)$/, "e-0$1") : String(p)
  return "(" + s.replace("-", "−") + ")"
}

function ModuleTrait() {
  const x = d3.scaleBand().domain(cellTypes).range([234, 932])
  const y = d3.scaleBand().domain(modules).range([1959, 2361])
  const color = d3.scaleLinear<string>().domain([-1, 0, 1]).range(["#00ff00", "#ffffff", "#ff0000"])
  const by = d3.scaleLinear().domain([-1, 1]).range([2337, 1983])
  const barSteps = d3.range(-1, 1, .04)
  return (
    <g>
      <text x={577} y={1943} textAnchor="middle" fontFamily={sans} fontWeight="bold" fontSize={17} fill="#111" textLength={221} lengthAdjust="spacingAndGlyphs">Module−trait relationships</text>
      {modules.map((m, i) => (
        <g key={m}>
          <text x={181} y={y(m)! + 13.5} textAnchor="end" fontFamily={sans} fontSize={15.8} fill="#222">{"ME" + m}</text>
          <rect x={187.5} y={y(m)} width={40} height={y.bandwidth() + .5} fill={moduleColors[i]} />
        </g>
      ))}
      {moduleR.map((row, r) => row.map((v, c) => {
        const cx = x(cellTypes[c])!
        const cy = y(modules[r])!
        return (
          <g key={r + "-" + c}>
            <rect x={cx} y={cy} width={x.bandwidth() + .5} height={y.bandwidth() + .5} fill={color(v)} />
            <text x={cx + x.bandwidth() / 2} y={cy + 7.3} textAnchor="middle" fontFamily={sans} fontSize={8} fill="#222">{String(v).replace("-", "−")}</text>
            <text x={cx + x.bandwidth() / 2} y={cy + 15} textAnchor="middle" fontFamily={sans} fontSize={8} fill="#222">{pText(moduleP[r][c])}</text>
          </g>
        )
      }))}
      <rect x={234} y={1959} width={698} height={402} fill="none" stroke="#555" strokeWidth={1.6} />
      {cellTypes.map(t => (
        <text key={t} transform={`translate(${x(t)! + x.bandwidth() / 2 + 3},2381) rotate(-45)`} textAnchor="end" fontFamily={sans} fontSize={12} fontStyle="italic" fill="#222">{t}</text>
      ))}
      {barSteps.map(v => <rect key={v} x={945} y={by(v + .04)} width={20} height={by(v) - by(v + .04) + .5} fill={color(v + .02)} />)}
      <rect x={945} y={1983} width={20} height={354} fill="none" stroke="#777" strokeWidth={1.2} />
      {corrTicks.map(t => (
        <g key={t}>
          <line x1={965} x2={977} y1={by(t)} y2={by(t)} stroke="#222" strokeWidth={1.2} />
          <text x={984} y={by(t) + 8} fontFamily={sans} fontSize={23} fill="#111">{String(t).replace("-", "−")}</text>
        </g>
      ))}
    </g>
  )
}

function Network() {
  const nx = d3.scaleLinear().domain([0, 1568]).range([1090, 1901])
  const ny = d3.scaleLinear().domain([0, 1500]).range([780, 1280])
  const pos = new Map<string, [number, number]>()
  geneNames.forEach((n, i) => pos.set(n, [nx(geneX[i]), ny(geneY[i])]))
  mirNames.forEach((n, i) => pos.set(n, [nx(mirX[i]), ny(mirY[i])]))
  lncNames.forEach((n, i) => pos.set(n, [nx(lncX[i]), ny(lncY[i])]))
  const edgePath = (e: [string, string, number?]) => {
    const [a, b] = [pos.get(e[0])!, pos.get(e[1])!]
    const bend = e[2] || 0
    const [mx, my] = [(a[0] + b[0]) / 2, (a[1] + b[1]) / 2]
    const len = Math.hypot(b[0] - a[0], b[1] - a[1])
    const p = d3.path()
    p.moveTo(a[0], a[1])
    p.quadraticCurveTo(mx - (b[1] - a[1]) / len * bend, my + (b[0] - a[0]) / len * bend, b[0], b[1])
    return p.toString()
  }
  const label = (t: string, x: number, y: number, fill = "#333") => (
    <text key={"l" + t} x={x} y={y + 4.5} textAnchor="middle" fontFamily={sans} fontSize={12.5} fill={fill}>{t}</text>
  )
  return (
    <g>
      <rect x={1108} y={792} width={756} height={431} fill="#d8d5cc" />
      {edges.map((e, i) => <path key={i} d={edgePath(e)} fill="none" stroke="#fff" strokeWidth={3} />)}
      {geneNames.map(n => {
        const [x, y] = pos.get(n)!
        return <circle key={n} cx={x} cy={y} r={21} fill="#ff6666" stroke="#fff" strokeWidth={5.5} />
      })}
      {mirNames.map(n => {
        const [x, y] = pos.get(n)!
        return <polygon key={n} points={`${x},${y - 20} ${x + 19},${y} ${x},${y + 20} ${x - 19},${y}`} fill="#3399ff" stroke="#fff" strokeWidth={3} />
      })}
      {lncNames.map(n => {
        const [x, y] = pos.get(n)!
        return <polygon key={n} points={`${x},${y - 22} ${x + 22},${y + 17} ${x - 22},${y + 17}`} fill="#ffcc00" stroke="#fff" strokeWidth={3.5} strokeLinejoin="round" />
      })}
      {geneNames.map(n => label(n, pos.get(n)![0], pos.get(n)![1]))}
      {mirNames.map(n => label(n, pos.get(n)![0], pos.get(n)![1], "#222"))}
      {lncNames.map(n => label(n, pos.get(n)![0], pos.get(n)![1] - 3, "#222"))}
    </g>
  )
}

function MirBars() {
  const redRamp = d3.interpolateRgbBasis(["#fff5f0", "#fee0d2", "#fcbba1", "#fc9272", "#fb6a4a", "#ef3b2c"])
  const redColor = d3.scaleSequential(redRamp).domain([4.36, 6])
  const blueColor = d3.scaleSequential(d3.interpolateBlues).domain([.2343, .153])
  const upY = d3.scaleBand().domain(upMirs).range([1272, 1639])
  const downY = d3.scaleBand().domain(downMirs).range([1272, 1637])
  const redBar = d3.scaleLinear().domain([6, 4.36]).range([1272, 1546])
  const blueBar = d3.scaleLinear().domain([.2343, .153]).range([1272, 1545])
  const redSteps = d3.range(4.36, 6, .02)
  const blueSteps = d3.range(.153, .2343, .001)
  return (
    <g>
      {upMirs.map((m, i) => (
        <g key={m}>
          <rect x={1233} y={upY(m)} width={45} height={upY.bandwidth()} fill={redColor(upValues[i])} stroke="#888" strokeWidth={1.6} />
          <text x={1285} y={upY(m)! + 26} fontFamily={sans} fontSize={20.5} fill="#111">{m}</text>
        </g>
      ))}
      {redSteps.map(v => <rect key={v} x={1419} y={redBar(v + .02)} width={22} height={redBar(v) - redBar(v + .02) + .6} fill={redColor(v)} />)}
      {upTicks.map(t => <text key={t} x={1450} y={redBar(t) + 4} fontFamily={sans} fontSize={10.5} fill="#444">{String(t)}</text>)}
      {downMirs.map((m, i) => (
        <g key={m}>
          <rect x={1507} y={downY(m)} width={43} height={downY.bandwidth()} fill={blueColor(downValues[i])} stroke="#888" strokeWidth={1.6} />
          <text x={1556} y={downY(m)! + 26} fontFamily={sans} fontSize={20.5} fill="#111">{m}</text>
        </g>
      ))}
      {blueSteps.map(v => <rect key={v} x={1700} y={blueBar(v + .001)} width={19} height={blueBar(v) - blueBar(v + .001) + .6} fill={blueColor(v)} />)}
      {downTicks.map(t => <text key={t} x={1728} y={blueBar(t) + 4} fontFamily={sans} fontSize={10.5} fill="#444">{String(t)}</text>)}
    </g>
  )
}

function Venn() {
  return (
    <g>
      <ellipse cx={1388.6} cy={1870} rx={176.5} ry={158} fill="#edf3fa" />
      <ellipse cx={1579.5} cy={1870.7} rx={72.5} ry={64.7} fill="#cfe5f0" style={{ mixBlendMode: "multiply" }} />
      <text x={1205} y={1706} fontFamily={serif} fontSize={20} fill="#111" textLength={353} lengthAdjust="spacingAndGlyphs">Favorable prognosis associated miRNAs</text>
      <text x={1547} y={1769} fontFamily={serif} fontWeight="bold" fontSize={27} fill="#000" textLength={140} lengthAdjust="spacingAndGlyphs">miR-340-5p</text>
      <line x1={1561} y1={1780} x2={1538} y2={1852} stroke="#111" strokeWidth={1.2} />
      <text x={1385} y={1874} textAnchor="middle" fontFamily={serif} fontSize={20} fill="#111">18</text>
      <text x={1537} y={1874} textAnchor="middle" fontFamily={serif} fontWeight="bold" fontSize={20} fill="#000">1</text>
      <text x={1588} y={1874} textAnchor="middle" fontFamily={serif} fontSize={20} fill="#111">2</text>
      <text x={1592} y={1957} fontFamily={serif} fontSize={20} fill="#111" textLength={293} lengthAdjust="spacingAndGlyphs">
        CD8<tspan fontSize={12} dy={-6}>+</tspan><tspan dy={6}> T-TILs associated miRNAs</tspan>
      </text>
    </g>
  )
}

function Survival() {
  const x = d3.scaleLinear().domain([0, 8000]).range([1254.5, 1615.6])
  const y = d3.scaleLinear().domain([0, 100]).range([2404.7, 2135.7])
  const step = d3.line<number>().curve(d3.curveStepAfter)
  const trace = (t: number[], s: number[]) => step.x((_, i) => x(t[i])).y(v => y(v))(s)!
  const band = (t: number[], up: number[], lo: number[]) =>
    d3.area<number>().curve(d3.curveStepAfter).x((_, i) => x(t[i])).y0((_, i) => y(lo[i])).y1(v => y(v))(up)!
  const blue = "#0a0ac4"
  const red = "#ff4040"
  const axisFont = { fontFamily: sans, fontWeight: "bold", fill: "#111" } as const
  return (
    <g>
      <text x={1437} y={2104} textAnchor="middle" fontSize={22} {...axisFont} textLength={333} lengthAdjust="spacingAndGlyphs">Survival analysis of TCGA-DLBC</text>
      {[20, 40, 60, 80].map(v => <line key={v} x1={x(0)} x2={x(7850)} y1={y(v)} y2={y(v)} stroke="#bbb" strokeWidth={1.6} strokeDasharray="2 7" />)}
      {[2000, 4000, 6000].map(v => <line key={v} x1={x(v)} x2={x(v)} y1={y(0)} y2={y(100)} stroke="#bbb" strokeWidth={1.6} strokeDasharray="2 7" />)}
      <path d={band(lowBandTime, lowBandUpper, lowBandLower)} fill={blue} fillOpacity={.11} />
      <path d={band(highBandTime, highBandUpper, highBandLower)} fill="#ff0000" fillOpacity={.17} />
      <path d={trace(lowBandTime, lowBandUpper)} fill="none" stroke={blue} strokeWidth={.9} strokeDasharray="1.5 2.5" opacity={.7} />
      <path d={trace(lowBandTime, lowBandLower)} fill="none" stroke={blue} strokeWidth={.9} strokeDasharray="1.5 2.5" opacity={.7} />
      <line x1={x(3560)} x2={x(3560)} y1={y(86.5)} y2={y(47.5)} stroke={blue} strokeWidth={.9} strokeDasharray="1.5 2.5" opacity={.7} />
      <path d={trace(highBandTime, highBandUpper)} fill="none" stroke={red} strokeWidth={.9} strokeDasharray="1.5 2.5" />
      <path d={trace(highBandTime, highBandLower)} fill="none" stroke={red} strokeWidth={.9} strokeDasharray="1.5 2.5" />
      <line x1={x(6420)} x2={x(6420)} y1={y(98.5)} y2={y(47.3)} stroke={red} strokeWidth={.9} strokeDasharray="1.5 2.5" />
      <path d={trace(highTime, highSurv)} fill="none" stroke={red} strokeWidth={4} />
      {highCensorTop.map(t => <line key={t} x1={x(t)} x2={x(t)} y1={y(100) - 5} y2={y(100) + 5} stroke={red} strokeWidth={3} />)}
      {highCensor.map(t => <line key={t} x1={x(t)} x2={x(t)} y1={y(90) - 6} y2={y(90) + 3} stroke={red} strokeWidth={3} />)}
      <path d={trace(lowTime, lowSurv)} fill="none" stroke={blue} strokeWidth={4} />
      {lowCensor.map(t => <line key={t} x1={x(t)} x2={x(t)} y1={y(72) - 6} y2={y(72) + 2} stroke={blue} strokeWidth={2.5} />)}
      <rect x={x(0)} y={y(100)} width={x(8000) - x(0)} height={y(0) - y(100)} fill="none" stroke="#111" strokeWidth={2.6} />
      {survTicksX.map(t => (
        <g key={t}>
          <line x1={x(t)} x2={x(t)} y1={y(0)} y2={y(0) + 8} stroke="#111" strokeWidth={2.4} />
          <text x={x(t)} y={2436} textAnchor="middle" fontSize={21} {...axisFont}>{t}</text>
        </g>
      ))}
      {survTicksY.map(t => (
        <g key={t}>
          <line x1={x(0) - 7} x2={x(0)} y1={y(t)} y2={y(t)} stroke="#111" strokeWidth={2.4} />
          <text x={1245} y={y(t) + 7} textAnchor="end" fontSize={21} {...axisFont}>{t}</text>
        </g>
      ))}
      <text x={1385} y={2459} textAnchor="middle" fontSize={21} {...axisFont} textLength={111} lengthAdjust="spacingAndGlyphs">Time (days)</text>
      <text transform="translate(1203,2270) rotate(-90)" textAnchor="middle" fontSize={20} {...axisFont} textLength={144} lengthAdjust="spacingAndGlyphs">Percent survival</text>
      <text x={1334} y={2372} textAnchor="middle" fontSize={20} {...axisFont} textLength={129} lengthAdjust="spacingAndGlyphs">Log-rank test,</text>
      <text x={1334} y={2393} textAnchor="middle" fontSize={20} {...axisFont} textLength={94} lengthAdjust="spacingAndGlyphs">p = 0.0179</text>
      <line x1={1636} x2={1664} y1={2145} y2={2145} stroke={blue} strokeWidth={4} />
      <line x1={1650} x2={1650} y1={2140} y2={2148} stroke={blue} strokeWidth={2.5} />
      <text x={1680} y={2151} fontSize={21} {...axisFont} textLength={216} lengthAdjust="spacingAndGlyphs">Low miR-340-5p (n=25)</text>
      <line x1={1636} x2={1664} y1={2177} y2={2177} stroke={red} strokeWidth={4} />
      <line x1={1650} x2={1650} y1={2172} y2={2180} stroke={red} strokeWidth={2.5} />
      <text x={1680} y={2183} fontSize={21} {...axisFont} textLength={218} lengthAdjust="spacingAndGlyphs">High miR-340-5p (n=21)</text>
    </g>
  )
}

export default function App() {
  return (
    <svg width={1901} height={2481} viewBox="0 0 1901 2481" style={{ position: "absolute", top: 0, left: 0, background: "#fff" }}>
      <Letter t="A" x={400} y={34} />
      <Letter t="B" x={2} y={813} />
      <Letter t="C" x={3} y={1418} />
      <Letter t="D" x={8} y={1945} />
      <Letter t="E" x={1015} y={803} />
      <Letter t="F" x={1131} y={1290} />
      <Letter t="G" x={1131} y={1702} />
      <Letter t="H" x={1133} y={2090} />
      <FlowChart />
      <CellHeatmap />
      <Dendrogram />
      <ModuleTrait />
      <Network />
      <MirBars />
      <Venn />
      <Survival />
    </svg>
  )
}
